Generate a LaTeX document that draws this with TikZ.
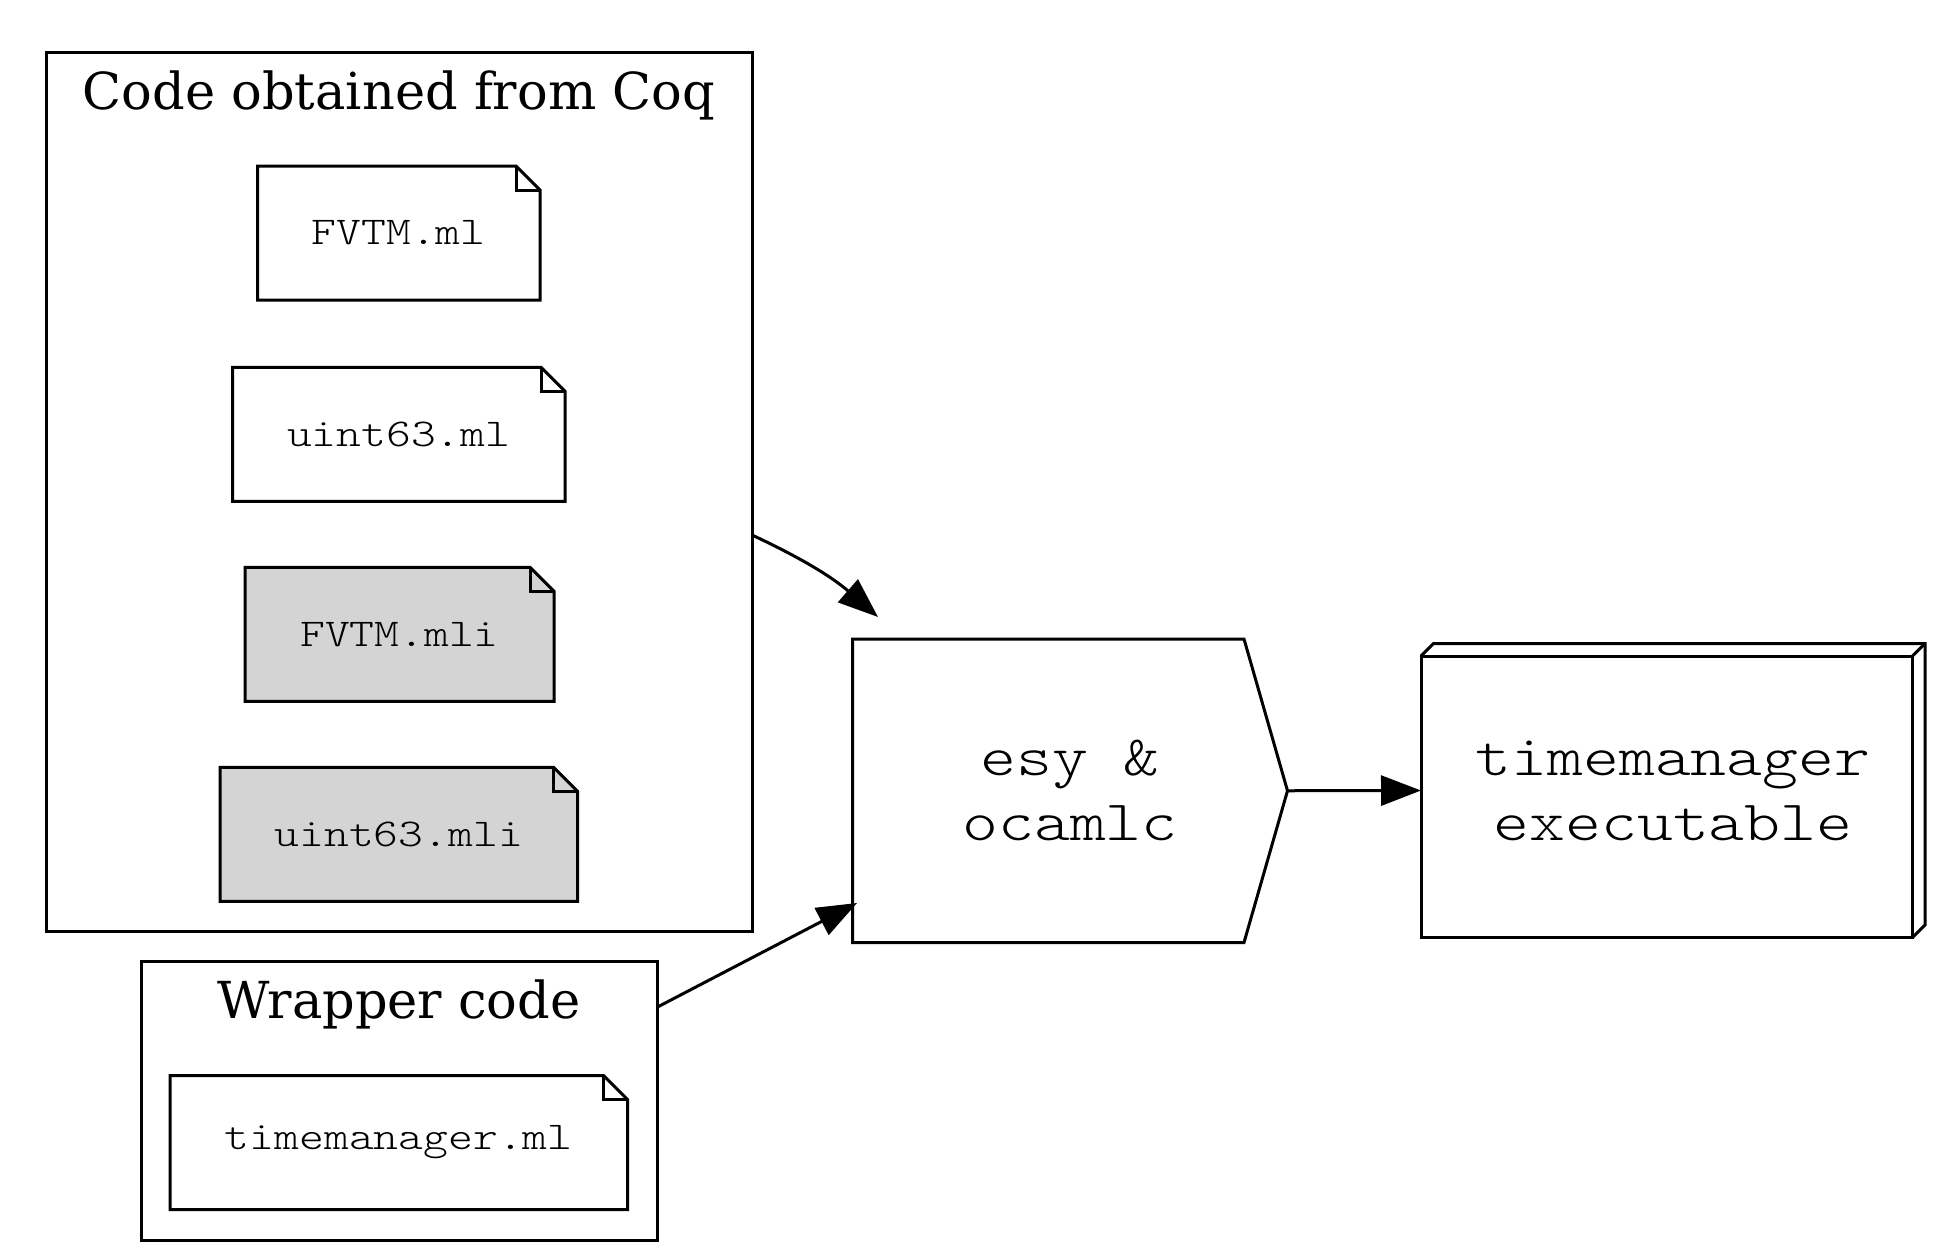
\documentclass[tikz,border=0pt]{standalone}
\usepackage{fontspec}
\newfontfamily\titlefont{DejaVu Serif}
\newfontfamily\mono[FakeStretch=1.2]{lmmonolt10-regular.otf}
\usetikzlibrary{arrows.meta,calc}
\pgfdeclarelayer{background}
\pgfsetlayers{background,main}
\begin{document}
\begin{tikzpicture}[x=1pt,y=-1pt,
  stroke/.style={draw, line width=3pt, line join=miter},
  cluster/.style={stroke, rectangle, inner sep=0pt, outer sep=0pt},
  filebox/.style={rectangle, inner sep=0pt, outer sep=0pt, minimum height=134pt,
    font=\mono\fontsize{39.4}{47}\selectfont},
  ctitle/.style={anchor=base, inner sep=0pt, font=\titlefont\fontsize{51}{60}\selectfont},
  big/.style={rectangle, inner sep=0pt, outer sep=0pt, align=center,
    font=\mono\fontsize{57}{65}\selectfont},
  edge/.style={-{Triangle[length=40pt,width=30pt]}, line width=3pt}
]
\useasboundingbox (0,0) rectangle (1960,1259);

% clusters
\node[cluster, minimum width=706pt, minimum height=879pt] (coq) at (399,491.5) {};
\node[ctitle] (coqtitle) at (399,109) {Code obtained from Coq};
\node[cluster, minimum width=516.5pt, minimum height=279pt] (wrap) at (399.25,1100.5) {};
\node[ctitle] (wraptitle) at (399,1018) {Wrapper code};

% files
\node[filebox, minimum width=282.5pt] (fvtmml) at (398.75,233) {FVTM.ml};
\node[filebox, minimum width=332.5pt] (uintml) at (398.75,434.25) {uint63.ml};
\node[filebox, minimum width=309pt] (fvtmmli) at (399.5,634.25) {FVTM.mli};
\node[filebox, minimum width=357.5pt] (uintmli) at (398.75,834.25) {uint63.mli};
\node[filebox, minimum width=457.5pt] (tmml) at (398.75,1142.5) {timemanager.ml};

\begin{pgfonlayer}{background}
\fill[white] (0,0) rectangle (1960,1259);
\foreach \n/\f in {fvtmml/white, uintml/white, fvtmmli/black!17, uintmli/black!17, tmml/white} {
  \path[stroke, fill=\f] (\n.south west) -- (\n.north west) -- ([xshift=-24pt]\n.north east)
     -- ([yshift=-24pt]\n.north east) -- (\n.south east) -- cycle;
  \path[stroke] ([xshift=-24pt]\n.north east) -- ([xshift=-24pt,yshift=-24pt]\n.north east)
     -- ([yshift=-24pt]\n.north east);
}
\end{pgfonlayer}

% esy & ocamlc
\node[big, minimum width=435pt, minimum height=303.5pt] (esy) at (1070,790.75) {esy \&\\ocamlc};
\path[stroke] (esy.north west) -- ([xshift=-43.5pt]esy.north east) -- (esy.east)
  -- ([xshift=-43.5pt]esy.south east) -- (esy.south west) -- cycle;

% executable (box3d)
\node[big, minimum width=504pt, minimum height=294pt] (exec) at (1673,790.5) {timemanager\\executable};
\path[stroke] (exec.south west) rectangle ([shift={(-12.5pt,-12.5pt)}]exec.north east);
\path[stroke] ([yshift=-12.5pt]exec.north west) -- ([xshift=12.5pt]exec.north west)
  -- (exec.north east) -- ([yshift=12.5pt]exec.south east) -- ([xshift=-12.5pt]exec.south east);
\path[stroke] ([shift={(-12.5pt,-12.5pt)}]exec.north east) -- (exec.north east);

% edges
\draw[edge] ([yshift=-43.5pt]coq.east) to[bend left=8] ([shift={(25.5pt,22pt)}]esy.north west);
\draw[edge] ([yshift=93.5pt]wrap.east) -- ([shift={(4.5pt,39.5pt)}]esy.south west);
\draw[edge] (esy.east) -- (exec.west);
\end{tikzpicture}
\end{document}
